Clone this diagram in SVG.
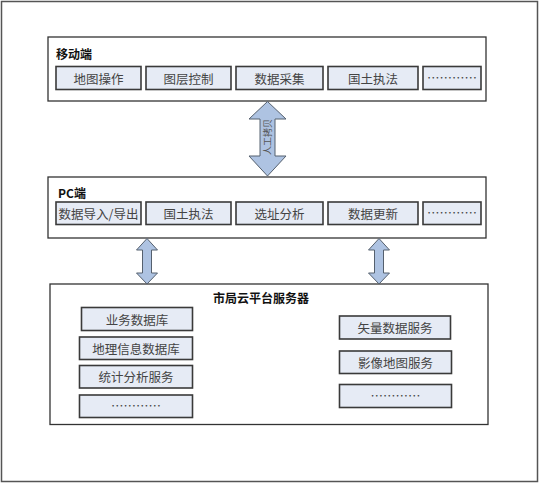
<svg xmlns="http://www.w3.org/2000/svg" width="540" height="484" viewBox="0 0 540 484">
<style>
text{font-family:"Noto Sans CJK SC","Noto Sans",sans-serif;}
.frame{fill:#fff;stroke:#555;stroke-width:1.5}
.panel{fill:#fff;stroke:#333;stroke-width:1.3}
.sub{fill:#e6ebf5;stroke:#3a3a3a;stroke-width:1.6}
.st{font-size:12.5px;fill:#444;text-anchor:middle;dominant-baseline:central}
.title{font-size:12px;font-weight:bold;fill:#111;dominant-baseline:central}
.arrow{fill:#aec3e2;stroke:#55606e;stroke-width:1}
.lbl{font-size:9px;fill:#555;text-anchor:middle;dominant-baseline:central}
</style>
<rect class="frame" x="1.5" y="1.5" width="536" height="480"/>

<g id="mobile">
<rect class="panel" x="48" y="37" width="438" height="64"/>
<text class="title" x="56" y="53">移动端</text>
<g id="m1"><rect class="sub" x="56" y="66.5" width="85" height="23"/><text class="st" x="98.5" y="78">地图操作</text></g>
<g id="m2"><rect class="sub" x="146" y="66.5" width="85" height="23"/><text class="st" x="188.5" y="78">图层控制</text></g>
<g id="m3"><rect class="sub" x="236" y="66.5" width="87" height="23"/><text class="st" x="279.5" y="78">数据采集</text></g>
<g id="m4"><rect class="sub" x="328" y="66.5" width="90" height="23"/><text class="st" x="373" y="78">国土执法</text></g>
<g id="m5"><rect class="sub" x="423" y="66.5" width="58" height="23"/><text class="st" x="452" y="77">…………</text></g>
</g>

<g id="pc">
<rect class="panel" x="48" y="177" width="438" height="61"/>
<text class="title" x="58" y="192">PC端</text>
<g id="p1"><rect class="sub" x="56" y="202" width="85" height="22.5"/><text class="st" x="98.5" y="213">数据导入/导出</text></g>
<g id="p2"><rect class="sub" x="146" y="202" width="85" height="22.5"/><text class="st" x="188.5" y="213">国土执法</text></g>
<g id="p3"><rect class="sub" x="236" y="202" width="87" height="22.5"/><text class="st" x="279.5" y="213">选址分析</text></g>
<g id="p4"><rect class="sub" x="328" y="202" width="90" height="22.5"/><text class="st" x="373" y="213">数据更新</text></g>
<g id="p5"><rect class="sub" x="423" y="202" width="58" height="22.5"/><text class="st" x="452" y="212">…………</text></g>
</g>

<g id="server">
<rect class="panel" x="50" y="284" width="438" height="140.5"/>
<text class="title" x="261" y="297" text-anchor="middle">市局云平台服务器</text>
<g id="s1"><rect class="sub" x="81.5" y="307.5" width="111" height="23"/><text class="st" x="137" y="319">业务数据库</text></g>
<g id="s2"><rect class="sub" x="79.5" y="337" width="113" height="22.5"/><text class="st" x="136" y="348">地理信息数据库</text></g>
<g id="s3"><rect class="sub" x="79.5" y="365.5" width="113" height="22.5"/><text class="st" x="136" y="376.5">统计分析服务</text></g>
<g id="s4"><rect class="sub" x="79.5" y="395" width="113" height="22.5"/><text class="st" x="136" y="405.5">…………</text></g>
<g id="s5"><rect class="sub" x="339.5" y="316" width="111" height="23"/><text class="st" x="395" y="327.5">矢量数据服务</text></g>
<g id="s6"><rect class="sub" x="339.5" y="351" width="112" height="22.5"/><text class="st" x="395.5" y="362">影像地图服务</text></g>
<g id="s7"><rect class="sub" x="339.5" y="384.5" width="112" height="23"/><text class="st" x="395.5" y="395">…………</text></g>
</g>

<g id="connectors">
<polygon class="arrow" points="267.5,101.5 286,119 275,119 275,156 286,156 267.5,176 249,156 260,156 260,119 249,119"/>
<text class="lbl" transform="translate(267.5,137) rotate(-90)">人工拷贝</text>
<polygon class="arrow" points="147,238.5 157.5,250 151.5,250 151.5,273 157.5,273 147,284 136.5,273 142.5,273 142.5,250 136.5,250"/>
<polygon class="arrow" points="379,238.5 389.5,250 383.5,250 383.5,273 389.5,273 379,284 368.5,273 374.5,273 374.5,250 368.5,250"/>
</g>
</svg>
